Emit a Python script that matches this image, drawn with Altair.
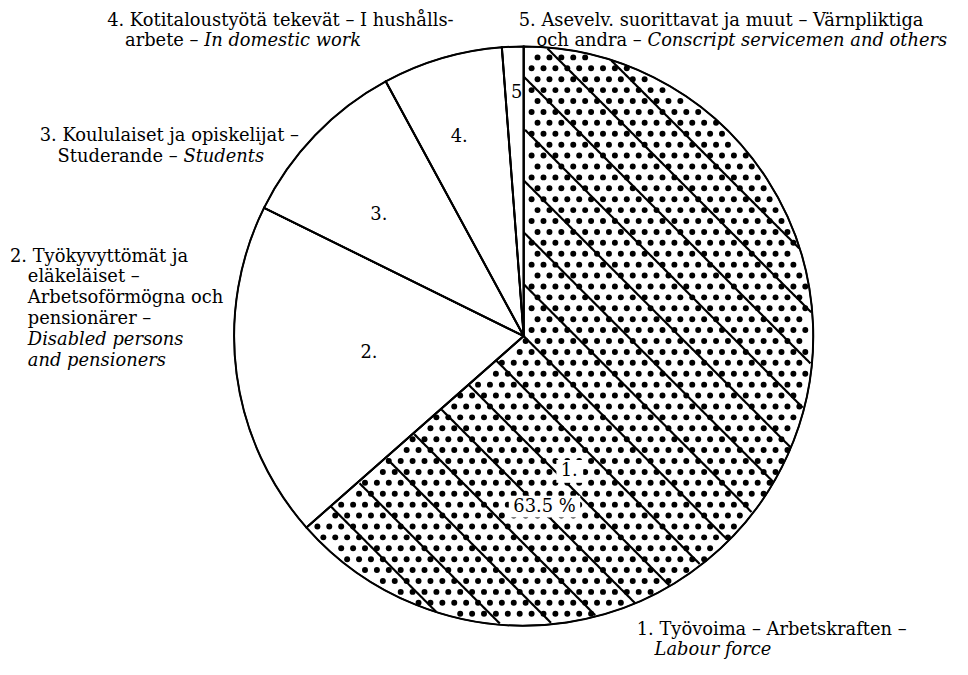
import math
import altair as alt
import pandas as pd

# ---------------- data ----------------
categories = ["1.", "2.", "3.", "4.", "5"]
shares = [63.5, 18.8, 9.8, 6.7, 1.2]
slice_order = [1, 2, 3, 4, 5]
pct_text = "63.5 %"

# ---------------- layout ----------------
OFF = 8
W, H = 960, 667
CX, CY = 528 - OFF, 336 - OFF
R = 292
FONT = "DejaVu Serif"
FS = 18
LS = 21

# approximate DejaVu Serif advance widths (em) for the joined line parts
DJ = {' ': .318, '–': .5, 'a': .596, 'b': .640, 'c': .560, 'd': .640, 'e': .592,
      'h': .644, 'n': .644, 'o': .602, 'r': .478, 't': .402, 'u': .644, 'S': .685}


def tw(s):
    return sum(DJ.get(c, .6) for c in s) * FS


df = pd.DataFrame({"cat": categories, "share": shares, "ord": slice_order})
A1 = shares[0] / sum(shares) * 2 * math.pi

theta = alt.Theta("share:Q", stack=True)
arc_fill = alt.Chart(df).mark_arc(radius=R, fill="white", stroke="black", strokeWidth=1.5).encode(
    theta=theta, order=alt.Order("ord:Q"), x=alt.value(CX), y=alt.value(CY)
)
arc_outline = alt.Chart(df).mark_arc(radius=R, fill="white", fillOpacity=0, stroke="black", strokeWidth=2).encode(
    theta=theta, order=alt.Order("ord:Q"), x=alt.value(CX), y=alt.value(CY)
)

inside = (f"datum.rr < {R - 2} && datum.ang >= 0 && datum.ang <= {A1} && "
          f"datum.rr*sin(min(datum.ang, PI/2)) > 2.5 && datum.rr*sin(min({A1}-datum.ang, PI/2)) > 2.5")

# dot screen texture of slice 1
NC, NR, SPX, SPY = 52, 56, 12, 11
dots = alt.Chart(alt.sequence(0, NC * NR, as_="n")).transform_calculate(
    i=f"datum.n % {NC}"
).transform_calculate(
    j=f"floor(datum.n / {NC})"
).transform_calculate(
    px=f"{CX - R} + datum.i*{SPX} + (datum.j % 2)*{SPX / 2}"
).transform_calculate(
    py=f"{CY - R} + datum.j*{SPY}"
).transform_calculate(
    dx=f"datum.px - {CX}", dy=f"datum.py - {CY}"
).transform_calculate(
    rr="sqrt(datum.dx*datum.dx + datum.dy*datum.dy)"
).transform_calculate(
    a0="atan2(datum.dx, -datum.dy)"
).transform_calculate(
    ang="datum.a0 < 0 ? datum.a0 + 2*PI : datum.a0"
).transform_filter(inside).mark_circle(size=36, color="black", opacity=1).encode(
    x=alt.X("px:Q", scale=None, axis=None), y=alt.Y("py:Q", scale=None, axis=None)
)

# diagonal hatching of slice 1
NK, NT, STEP, SP = 26, 331, 2, 37
phi = math.radians(45)
ux, uy = math.cos(phi), math.sin(phi)
nx, ny = -math.sin(phi), math.cos(phi)
hatch = alt.Chart(alt.sequence(0, NK * NT, as_="n")).transform_calculate(
    k=f"floor(datum.n / {NT}) - {NK // 2}"
).transform_calculate(
    t=f"(datum.n % {NT})*{STEP} - {(NT - 1) * STEP / 2}"
).transform_calculate(
    px=f"{CX} + datum.k*{SP}*{nx} + datum.t*{ux}"
).transform_calculate(
    py=f"{CY} + datum.k*{SP}*{ny} + datum.t*{uy}"
).transform_calculate(
    dx=f"datum.px - {CX}", dy=f"datum.py - {CY}"
).transform_calculate(
    rr="sqrt(datum.dx*datum.dx + datum.dy*datum.dy)"
).transform_calculate(
    a0="atan2(datum.dx, -datum.dy)"
).transform_calculate(
    ang="datum.a0 < 0 ? datum.a0 + 2*PI : datum.a0"
).transform_filter(
    f"datum.rr < {R} && datum.ang >= 0 && datum.ang <= {A1}"
).mark_line(color="black", strokeWidth=2.2).encode(
    x=alt.X("px:Q", scale=None, axis=None), y=alt.Y("py:Q", scale=None, axis=None),
    detail=alt.Detail("k:Q"), order=alt.Order("t:Q")
)

# white boxes behind the labels of slice 1
box_specs = [(561, 461, 588, 484), (513, 497, 585, 519)]
box_layers = [
    alt.Chart(pd.DataFrame({"b": [0]})).mark_rect(color="white").encode(
        x=alt.value(x0 - OFF), x2=alt.value(x1 - OFF), y=alt.value(y0 - OFF), y2=alt.value(y1 - OFF)
    )
    for (x0, y0, x1, y1) in box_specs
]


def txt(x, y, s, italic=False, align="left"):
    return alt.Chart(pd.DataFrame({"t": [s]})).mark_text(
        align=align, baseline="middle", font=FONT, fontSize=FS,
        fontStyle="italic" if italic else "normal", color="black"
    ).encode(text="t:N", x=alt.value(x - OFF), y=alt.value(y - OFF))


IND = 18
texts = []
# 4.
ax, ay = 108, 18
texts.append(txt(ax, ay, "4. Kotitaloustyötä tekevät – I hushålls-"))
texts.append(txt(ax + IND, ay + LS, "arbete – "))
texts.append(txt(ax + IND + tw("arbete – "), ay + LS, "In domestic work", True))
# 5.
bx, by = 523, 18
texts.append(txt(bx, by, "5. Asevelv. suorittavat ja muut – Värnpliktiga"))
texts.append(txt(bx + IND, by + LS, "och andra – "))
texts.append(txt(bx + IND + tw("och andra – "), by + LS, "Conscript servicemen and others", True))
# 3.
cx_, cy_ = 40, 134
texts.append(txt(cx_, cy_, "3. Koululaiset ja opiskelijat –"))
texts.append(txt(cx_ + IND, cy_ + LS, "Studerande – "))
texts.append(txt(cx_ + IND + tw("Studerande – "), cy_ + LS, "Students", True))
# 2.
dx_, dy_ = 10, 256
texts.append(txt(dx_, dy_, "2. Työkyvyttömät ja"))
texts.append(txt(dx_ + IND, dy_ + LS, "eläkeläiset –"))
texts.append(txt(dx_ + IND, dy_ + 2 * LS, "Arbetsoförmögna och"))
texts.append(txt(dx_ + IND, dy_ + 3 * LS, "pensionärer –"))
texts.append(txt(dx_ + IND, dy_ + 4 * LS, "Disabled persons", True))
texts.append(txt(dx_ + IND, dy_ + 5 * LS, "and pensioners", True))
# 1.
ex, ey = 642, 632
texts.append(txt(ex, ey, "1. Työvoima – Arbetskraften –"))
texts.append(txt(ex + IND, ey + LS, "Labour force", True))

# slice labels
texts.append(txt(574, 472, categories[0], align="center"))
texts.append(txt(549, 508, pct_text, align="center"))
texts.append(txt(372, 353, categories[1], align="center"))
texts.append(txt(382, 214, categories[2], align="center"))
texts.append(txt(463, 135, categories[3], align="center"))
texts.append(txt(521, 91, categories[4], align="center"))

chart = alt.layer(arc_fill, dots, hatch, arc_outline, *box_layers, *texts).properties(
    width=W, height=H, padding=0, autosize=alt.AutoSizeParams(type="none"), background="white"
).configure_view(stroke="transparent")

chart.save("out.html", embed_options={"renderer": "svg", "actions": False})
